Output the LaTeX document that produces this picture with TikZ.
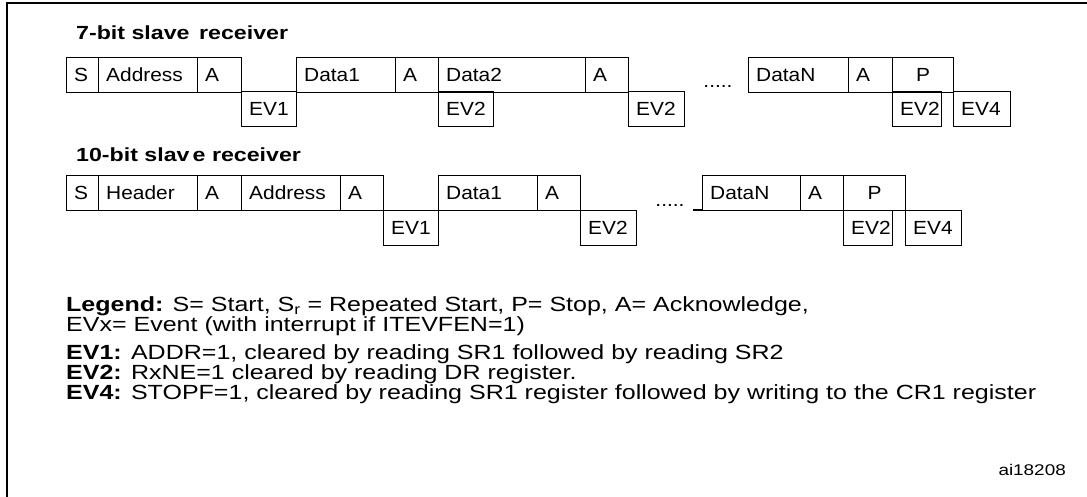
\documentclass[tikz,border=0pt]{standalone}
\usepackage{fontspec}
\setmainfont{Liberation Sans}
\newfontfamily\boxfont[FakeStretch=1.1]{Liberation Sans}
\newfontfamily\legfont[FakeStretch=1.22]{Liberation Sans}
\usetikzlibrary{positioning}
\tikzset{
  field/.style={draw, line width=1.3pt, minimum height=35pt, inner sep=0pt},
  lbl/.style={anchor=west, inner xsep=8pt, font=\boxfont\fontsize{19}{19}\selectfont},
  head/.style={anchor=west, inner sep=0pt, font=\legfont\fontsize{19}{18}\selectfont\bfseries},
  txt/.style={anchor=north west, align=left, inner sep=0pt, font=\legfont\fontsize{20.5}{17.5}\selectfont}
}
% box: name, left, width, top, text
\newcommand\fld[5]{\node[field, minimum width=#3pt, anchor=north west] (#1) at (#2,#4) {};\node[lbl] at (#1.west) {#5};}

\begin{document}
\begin{tikzpicture}[x=1pt,y=-1pt]
\useasboundingbox (0,0) rectangle (1087,497);
\draw[line width=1.5pt] (7,497) -- (7,3) -- (1087,3);

% 7-bit
\node[head] (h7) at (76,33) {7-bit slave\, receiver};
\fld{aS}{66}{32}{57}{S}
\fld{aAd}{98}{99}{57}{Address}
\fld{aA1}{197}{44}{57}{A}
\fld{aE1}{241}{55}{91}{EV1}
\fld{aD1}{296}{99}{57}{Data1}
\fld{aA2}{395}{43}{57}{A}
\fld{aD2}{438}{147}{57}{Data2}
\fld{aE2}{438}{55}{91}{EV2}
\fld{aA3}{585}{43}{57}{A}
\fld{aE3}{628}{56}{91}{EV2}
\node[lbl, anchor=center, inner sep=0pt] (adots) at (718,86) {.....};
\fld{aDN}{748}{100}{57}{DataN}
\fld{aA4}{848}{44}{57}{A}
\node[field, minimum width=61pt, anchor=north west] (aP) at (892,57) {};
\node[lbl, anchor=center] at (aP) {P};
\fld{aE4}{892}{49}{91}{EV2}
\fld{aE5}{953}{57}{91}{EV4}

% 10-bit
\node[head] (h10) at (76,155) {10-bit slav\,e receiver};
\fld{bS}{66}{32}{175}{S}
\fld{bH}{98}{99}{175}{Header}
\fld{bA1}{197}{44}{175}{A}
\fld{bAd}{241}{99}{175}{Address}
\fld{bA2}{340}{43}{175}{A}
\fld{bE1}{383}{55}{210}{EV1}
\fld{bD1}{438}{99}{175}{Data1}
\fld{bA3}{537}{43}{175}{A}
\fld{bE2}{580}{56}{210}{EV2}
\node[lbl, anchor=center, inner sep=0pt] (bdots) at (670,205) {.....};
\fld{bDN}{702}{98}{175}{DataN}
\coordinate (bstub) at (693,210);
\draw[line width=1.3pt] (bstub) -- (bstub -| bDN.west);
\fld{bA4}{800}{43}{175}{A}
\node[field, minimum width=62pt, anchor=north west] (bP) at (843,175) {};
\node[lbl, anchor=center] at (bP) {P};
\fld{bE3}{843}{49}{210}{EV2}
\fld{bE4}{905}{56}{210}{EV4}

% legend
\node[txt] (leg) at (66,296) {\textbf{Legend:} S= Start, S\textsubscript{r} = Repeated Start, P= Stop, A= Acknowledge,\\
EVx= Event (with interrupt if ITEVFEN=1)};
\node[txt] (evs) at (66,344) {\textbf{EV1:} ADDR=1, cleared by reading SR1 followed by reading SR2\\
\textbf{EV2:} RxNE=1 cleared by reading DR register.\\
\textbf{EV4:} STOPF=1, cleared by reading SR1 register followed by writing to the CR1 register};
\node[anchor=east, inner sep=0pt, font=\legfont\fontsize{15.5}{15}\selectfont] (ai) at (1066,470) {ai18208};
\end{tikzpicture}
\end{document}
